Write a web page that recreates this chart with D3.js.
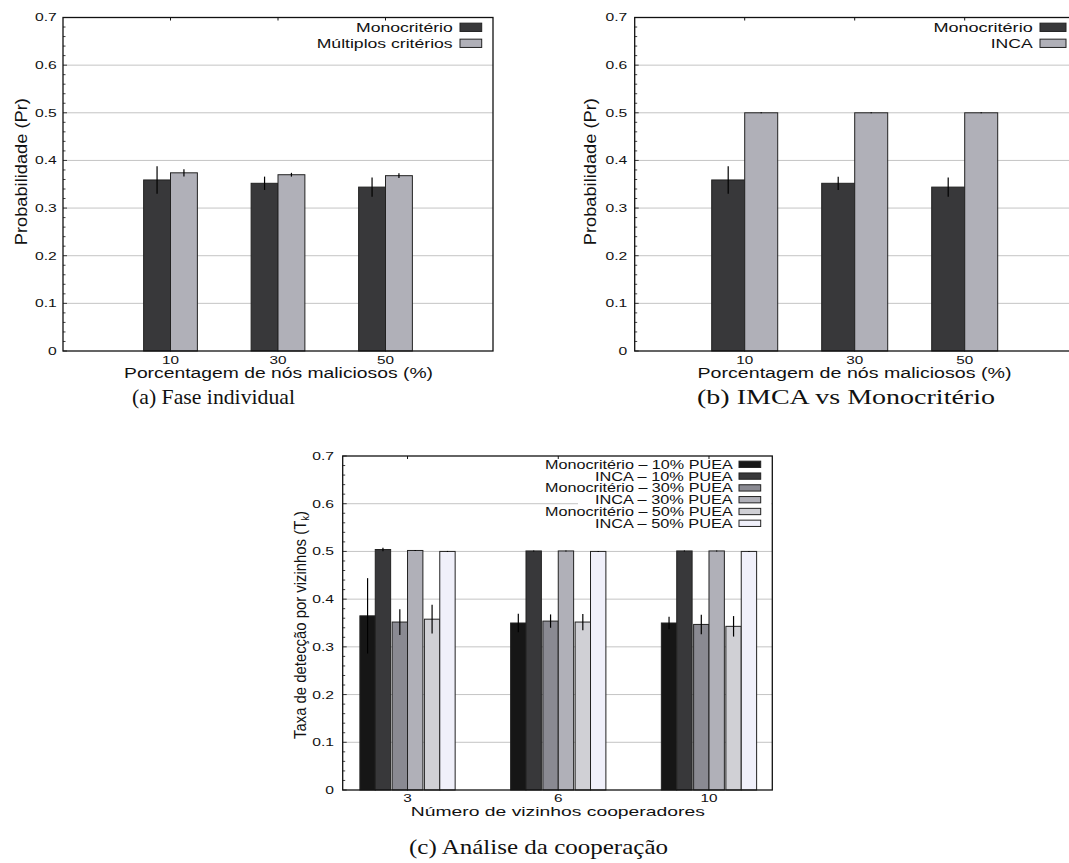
<!DOCTYPE html>
<html>
<head>
<meta charset="utf-8">
<script src="https://cdn.jsdelivr.net/npm/d3@7"></script>
<style>
  body { margin: 0; background: #fff; }
  svg { display: block; }
  text { font-family: "Liberation Sans", Arial, Helvetica, sans-serif; fill: #111; }
  .cap { font-family: "Liberation Serif", "DejaVu Serif", serif; }
</style>
</head>
<body>
<div id="chart"></div>
<script>
// ---------------------------------------------------------------------------
// Data
// ---------------------------------------------------------------------------
const pctCategories = ["10", "30", "50"];
const neighborCategories = ["3", "6", "10"];
const yTicks = [0, 0.1, 0.2, 0.3, 0.4, 0.5, 0.6, 0.7];

// panels (a) and (b)
const monoValues  = [0.359, 0.352, 0.344];
const monoErr     = [0.029, 0.014, 0.020];
const multiValues = [0.374, 0.370, 0.368];
const multiErr    = [0.0075, 0.004, 0.005];
const incaValues  = [0.500, 0.500, 0.500];
const incaErr     = [0.001, 0.001, 0.001];

// panel (c)
const mono10 = [0.365, 0.350, 0.350], mono10Err = [0.079, 0.0195, 0.013];
const inca10 = [0.504, 0.501, 0.501], inca10Err = [0.0035, 0.001, 0.001];
const mono30 = [0.352, 0.354, 0.347], mono30Err = [0.027, 0.014, 0.0205];
const inca30 = [0.502, 0.501, 0.501], inca30Err = [0.001, 0.001, 0.001];
const mono50 = [0.358, 0.352, 0.343], mono50Err = [0.030, 0.017, 0.0215];
const inca50 = [0.500, 0.500, 0.500], inca50Err = [0.001, 0.001, 0.001];

const seriesA = [
  {name: "Monocritério", values: monoValues, err: monoErr, color: "#38383a"},
  {name: "Múltiplos critérios", values: multiValues, err: multiErr, color: "#b0b0b8"}
];
const seriesB = [
  {name: "Monocritério", values: monoValues, err: monoErr, color: "#38383a"},
  {name: "INCA", values: incaValues, err: incaErr, color: "#b0b0b8"}
];
const seriesC = [
  {name: "Monocritério – 10% PUEA", values: mono10, err: mono10Err, color: "#161616"},
  {name: "INCA – 10% PUEA", values: inca10, err: inca10Err, color: "#38383a"},
  {name: "Monocritério – 30% PUEA", values: mono30, err: mono30Err, color: "#8a8a92"},
  {name: "INCA – 30% PUEA", values: inca30, err: inca30Err, color: "#b0b0b8"},
  {name: "Monocritério – 50% PUEA", values: mono50, err: mono50Err, color: "#d0d0d5"},
  {name: "INCA – 50% PUEA", values: inca50, err: inca50Err, color: "#f0f0fa"}
];

// ---------------------------------------------------------------------------
// helpers
// ---------------------------------------------------------------------------
const svg = d3.select("#chart").append("svg")
  .attr("width", 1069).attr("height", 863);

// the picture is stretched sideways, so glyphs get widened too
function stretch(sel, k) {
  sel.each(function() {
    const w = this.getComputedTextLength();
    d3.select(this).attr("textLength", w * k).attr("lengthAdjust", "spacingAndGlyphs");
  });
}
function fit(sel, len) {
  sel.attr("textLength", len).attr("lengthAdjust", "spacingAndGlyphs");
}

function drawPanel(p) {
  const x = d3.scaleLinear().domain(p.domain).range([p.left, p.right]);
  const y = d3.scaleLinear().domain([0, 0.7]).range([p.bottom, p.top]);
  const g = svg.append("g");
  const bw = x(p.barW) - x(0);

  // grid
  g.selectAll(null)
    .data(yTicks.filter(d => d > 0 && d < 0.7))
    .join("line")
    .attr("x1", p.left).attr("x2", p.right)
    .attr("y1", d => y(d)).attr("y2", d => y(d))
    .attr("stroke", "#c4c4c4").attr("stroke-width", 1);

  if (p.legendBox) {
    g.append("rect")
      .attr("x", p.legendBox[0]).attr("y", p.top + 1)
      .attr("width", p.right - p.legendBox[0] - 1)
      .attr("height", p.legendBox[1] - p.top)
      .attr("fill", "#fff");
  }

  // top ticks at group centres
  p.categories.forEach((c, j) => {
    g.append("line").attr("x1", x(j)).attr("x2", x(j))
      .attr("y1", p.top).attr("y2", p.top + 3).attr("stroke", "#111");
  });

  // bars + error bars
  p.series.forEach((s, i) => {
    const off = p.offsets[i];
    g.selectAll(null).data(s.values).join("rect")
      .attr("x", (d, j) => x(j + off))
      .attr("width", bw)
      .attr("y", d => y(d))
      .attr("height", d => y(0) - y(d))
      .attr("fill", s.color)
      .attr("stroke", "#222").attr("stroke-width", 1);
    g.selectAll(null).data(s.values).join("line")
      .attr("x1", (d, j) => x(j + off + p.barW / 2))
      .attr("x2", (d, j) => x(j + off + p.barW / 2))
      .attr("y1", (d, j) => y(d - s.err[j]))
      .attr("y2", (d, j) => y(d + s.err[j]))
      .attr("stroke", "#000").attr("stroke-width", 1.2);
  });

  // frame
  g.append("rect")
    .attr("x", p.left).attr("y", p.top)
    .attr("width", p.right - p.left).attr("height", p.bottom - p.top)
    .attr("fill", "none").attr("stroke", "#111").attr("stroke-width", 1.3);

  // y minor / major ticks
  g.selectAll(null).data(d3.range(0, 36)).join("line")
    .attr("x1", p.left).attr("x2", (d) => p.left + (d % 5 === 0 ? 4 : 2.5))
    .attr("y1", d => y(d * 0.02)).attr("y2", d => y(d * 0.02))
    .attr("stroke", "#111").attr("stroke-width", 0.8);

  // y axis labels
  const ax = g.append("g")
    .attr("transform", `translate(${p.left},0)`)
    .call(d3.axisLeft(y).tickValues(yTicks).tickSize(0).tickPadding(p.tickPad)
      .tickFormat(d => d === 0 ? "0" : d3.format(".1f")(d)));
  ax.select(".domain").remove();
  ax.selectAll("text").attr("font-size", 10.8).attr("fill", "#111")
    .attr("font-family", "Liberation Sans, Arial, sans-serif")
    .call(stretch, 1.45);

  // x labels
  g.selectAll(null).data(p.categories).join("text")
    .attr("x", (d, j) => x(j)).attr("y", p.xLabelY)
    .attr("text-anchor", "middle").attr("font-size", 10.2)
    .text(d => d)
    .call(stretch, 1.5);

  // axis titles
  g.append("text")
    .attr("x", p.xTitle[0]).attr("y", p.xTitle[1])
    .attr("text-anchor", "middle").attr("font-size", p.xTitle[3])
    .text(p.xTitleText)
    .call(fit, p.xTitle[2]);

  const yt = g.append("text")
    .attr("transform", `translate(${p.yTitle[0]},${p.yTitle[1]}) rotate(-90)`)
    .attr("text-anchor", "middle").attr("font-size", 17);
  if (p.yTitleSub) {
    yt.append("tspan").text(p.yTitleText);
    yt.append("tspan").attr("font-size", 11).attr("dy", 3).text(p.yTitleSub);
    yt.append("tspan").attr("dy", -3).text(")");
  } else {
    yt.text(p.yTitleText);
  }
  yt.call(fit, p.yTitle[2]);

  // legend
  const L = p.legend;
  p.series.forEach((s, i) => {
    const cy = L.y0 + i * L.step;
    g.append("text")
      .attr("x", L.textRight).attr("y", cy + L.fontSize * 0.36)
      .attr("text-anchor", "end").attr("font-size", L.fontSize)
      .text(s.name)
      .call(fit, L.lengths[i]);
    g.append("rect")
      .attr("x", L.sw[0]).attr("width", L.sw[1] - L.sw[0])
      .attr("y", cy - L.swH / 2).attr("height", L.swH)
      .attr("fill", s.color).attr("stroke", "#222").attr("stroke-width", 1);
  });

  // caption
  svg.append("text").attr("class", "cap")
    .attr("x", p.caption[0]).attr("y", p.caption[1])
    .attr("text-anchor", "middle").attr("font-size", 21)
    .text(p.captionText)
    .call(fit, p.caption[2]);
}

// ---------------------------------------------------------------------------
// the three panels
// ---------------------------------------------------------------------------
drawPanel({
  left: 63, right: 493, top: 17.5, bottom: 351, domain: [-1, 3],
  barW: 0.25, offsets: [-0.25, 0], categories: pctCategories, series: seriesA,
  tickPad: 6.3, xLabelY: 363.5,
  xTitle: [278.5, 378, 309, 14], xTitleText: "Porcentagem de nós maliciosos (%)",
  yTitle: [27, 171.7, 147], yTitleText: "Probabilidade (Pr)",
  legend: {textRight: 452.7, y0: 27.3, step: 16, fontSize: 13, lengths: [96.7, 136],
           sw: [460, 481.7], swH: 8.3},
  caption: [213.5, 404, 163], captionText: "(a)  Fase individual"
});

drawPanel({
  left: 634.7, right: 1074.7, top: 17.5, bottom: 351, domain: [-1, 3],
  barW: 0.3, offsets: [-0.3, 0], categories: pctCategories, series: seriesB,
  tickPad: 7.4, xLabelY: 363.5,
  xTitle: [854.5, 378, 314, 14], xTitleText: "Porcentagem de nós maliciosos (%)",
  yTitle: [596, 171.7, 147], yTitleText: "Probabilidade (Pr)",
  legend: {textRight: 1032.7, y0: 27.3, step: 16, fontSize: 13, lengths: [99.3, 42],
           sw: [1040, 1066], swH: 8.3},
  caption: [846, 404, 298], captionText: "(b)  IMCA vs Monocritério"
});

drawPanel({
  left: 342.7, right: 772.3, top: 456, bottom: 790, domain: [-0.43, 2.42],
  barW: 0.102,
  offsets: d3.range(6).map(i => i * 0.102 + Math.floor(i / 2) * 0.01 - 0.316),
  categories: neighborCategories, series: seriesC,
  tickPad: 8.7, xLabelY: 802,
  xTitle: [557.8, 816, 294, 12.8], xTitleText: "Número de vizinhos cooperadores",
  yTitle: [305.5, 625, 228], yTitleText: "Taxa de detecção por vizinhos (T", yTitleSub: "k",
  legendBox: [578, 530],
  legend: {textRight: 732.7, y0: 464.3, step: 11.8, fontSize: 12.3,
           lengths: [187.7, 137.7, 187.7, 137.7, 187.7, 137.7],
           sw: [739, 760.7], swH: 6.3},
  caption: [538.5, 854, 259], captionText: "(c)  Análise da cooperação"
});
</script>
</body>
</html>
